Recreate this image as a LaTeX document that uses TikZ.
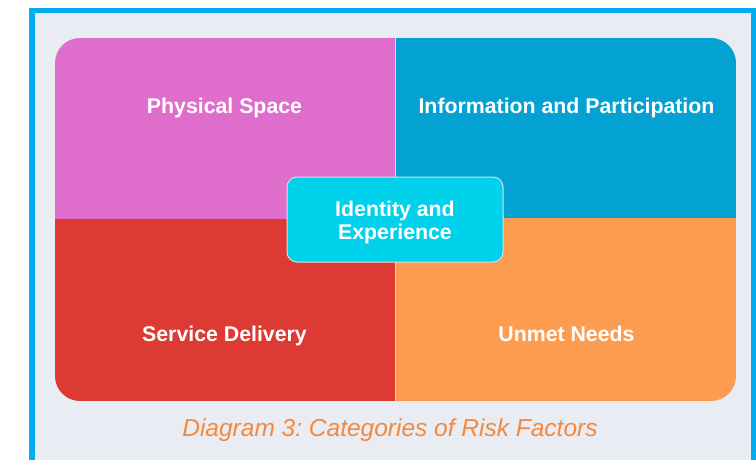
\documentclass[tikz,border=0pt]{standalone}
\usepackage{fontspec}
\setmainfont{Liberation Sans}
\frenchspacing
\definecolor{framebl}{HTML}{00AEEF}
\definecolor{bgin}{HTML}{E9ECF2}
\definecolor{qpink}{HTML}{DF6DCB}
\definecolor{qblue}{HTML}{04A2D3}
\definecolor{qred}{HTML}{DC3A33}
\definecolor{qorange}{HTML}{FC9C50}
\definecolor{qcyan}{HTML}{00D2EC}
\definecolor{capor}{HTML}{F5883C}
\tikzset{
  lab/.style={text=white,font=\bfseries\fontsize{21.3}{23}\selectfont,align=center},
}
\begin{document}
\begin{tikzpicture}[x=1pt,y=-1pt]
\useasboundingbox (0,0) rectangle (756,460);
\fill[white] (0,0) rectangle (756,460);
% frame
\fill[framebl] (29,8) rectangle (756,470);
\fill[bgin] (34.5,13.5) rectangle (750.5,470);
% quadrants clipped to rounded rect
\begin{scope}
\clip[rounded corners=25pt] (55,38) rectangle (736,401);
\fill[qpink] (55,38) rectangle (395,219);
\fill[qblue] (395,38) rectangle (736,218);
\fill[qred] (55,219) rectangle (395,401);
\fill[qorange] (395,218) rectangle (736,401);
\draw[white!70!gray,line width=1pt] (395,38) -- (395,401);
\end{scope}
\node[lab] (ps) at (224.5,108) {Physical Space};
\node[lab] (ip) at (566.5,108) {Information and Participation};
\node[lab] (sd) at (224.5,336) {Service Delivery};
\node[lab] (un) at (566.5,334) {Unmet Needs};
\node[draw=white!75!gray,fill=qcyan,line width=1pt,rounded corners=10pt,minimum width=216pt,minimum height=85pt] (ie) at (395,219.5) {};
\node[lab] (iet) at (395,222.5) {Identity and\\Experience};
\node[text=capor,font=\itshape\fontsize{24.5}{28}\selectfont] (cap) at (390,430) {Diagram 3: Categories of Risk Factors};
\end{tikzpicture}
\end{document}
